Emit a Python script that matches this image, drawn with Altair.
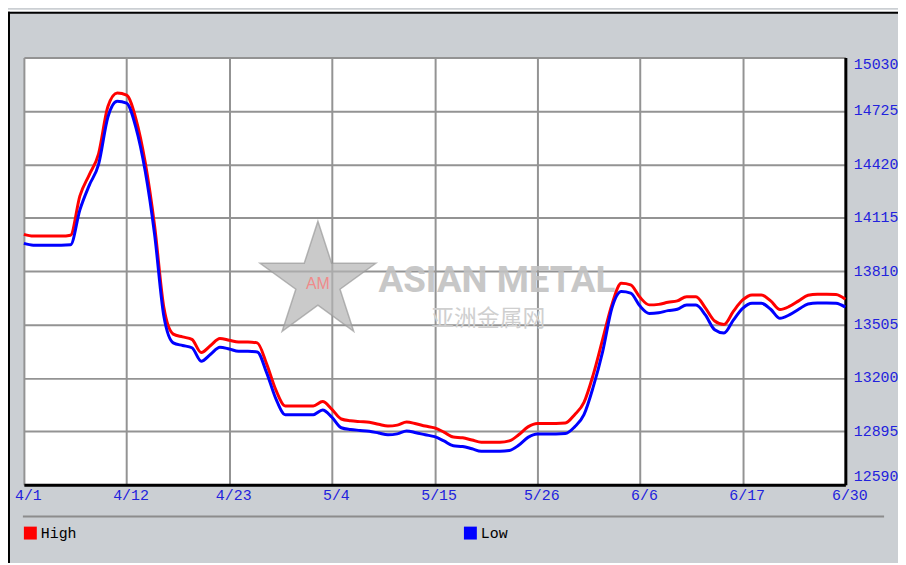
import altair as alt
import pandas as pd

# ---- data ----
days = list(range(89))
high = [14020, 14010, 14010, 14010, 14010, 14015, 14240, 14360, 14480, 14750,
        14827, 14815, 14680, 14430, 14070, 13600, 13450, 13434, 13420, 13345,
        13385, 13425, 13415, 13405, 13405, 13400, 13280, 13130, 13040, 13040,
        13040, 13040, 13065, 13020, 12965, 12955, 12950, 12946, 12935, 12925,
        12930, 12948, 12938, 12925, 12914, 12890, 12862, 12858, 12845, 12832,
        12832, 12832, 12840, 12875, 12920, 12940, 12940, 12940, 12942, 12990,
        13060, 13220, 13420, 13620, 13740, 13731, 13660, 13617, 13620, 13632,
        13640, 13664, 13664, 13600, 13525, 13505, 13580, 13645, 13674, 13674,
        13640, 13590, 13608, 13640, 13672, 13678, 13678, 13676, 13649]
low = [13968, 13958, 13958, 13958, 13958, 13960, 14160, 14300, 14420, 14690,
       14780, 14770, 14630, 14380, 14020, 13550, 13400, 13385, 13372, 13295,
       13335, 13375, 13365, 13352, 13352, 13348, 13230, 13080, 12990, 12990,
       12990, 12990, 13017, 12975, 12915, 12905, 12900, 12895, 12885, 12875,
       12880, 12897, 12887, 12875, 12864, 12840, 12812, 12808, 12795, 12781,
       12781, 12781, 12785, 12815, 12860, 12880, 12880, 12880, 12882, 12920,
       12990, 13150, 13350, 13600, 13693, 13684, 13610, 13568, 13572, 13584,
       13592, 13616, 13616, 13560, 13475, 13456, 13530, 13597, 13626, 13626,
       13592, 13540, 13560, 13592, 13622, 13628, 13628, 13626, 13604]
series_names = ["High", "Low"]
series_colors = ["#ff0000", "#0000ff"]
y_ticks = [12590, 12895, 13200, 13505, 13810, 14115, 14420, 14725, 15030]
x_tick_pos = [0, 11, 22, 33, 44, 55, 66, 77, 88]
x_tick_labels = ["4/1", "4/12", "4/23", "5/4", "5/15", "5/26", "6/6", "6/17", "6/30"]

df = pd.DataFrame({
    "day": days + days,
    "price": high + low,
    "series": [series_names[0]] * len(days) + [series_names[1]] * len(days),
})

W, H = 827, 430
label_color = "#2222dd"
grid_color = "#939393"
label_expr = "[" + ",".join("'%s'" % t for t in x_tick_labels) + "][round(datum.value / 11)]"

lines = alt.Chart(df).mark_line(strokeWidth=3, interpolate="monotone").encode(
    x=alt.X("day:Q",
            scale=alt.Scale(domain=[0, 88], nice=False, zero=False),
            axis=alt.Axis(values=x_tick_pos, labelExpr=label_expr, title=None,
                          orient="bottom", ticks=False, labelFlush=False,
                          labelFont="Liberation Mono", labelFontSize=15,
                          labelColor=label_color, labelPadding=3, labelOffset=4,
                          domainColor="black", domainWidth=3,
                          grid=True, gridColor=grid_color, gridWidth=2)),
    y=alt.Y("price:Q",
            scale=alt.Scale(domain=[12590, 15030], nice=False, zero=False),
            axis=alt.Axis(values=y_ticks, format="d", title=None, orient="right",
                          ticks=False, labelFlush=True, labelAlign="left",
                          labelFont="Liberation Mono", labelFontSize=15,
                          labelColor=label_color, labelPadding=8, labelOffset=-1,
                          domainColor="black", domainWidth=3,
                          grid=True, gridColor=grid_color, gridWidth=2)),
    color=alt.Color("series:N",
                    scale=alt.Scale(domain=series_names, range=series_colors),
                    legend=alt.Legend(title=None, orient="none", legendX=-1, legendY=471,
                                      direction="horizontal", symbolType="square",
                                      symbolSize=36, symbolStrokeWidth=7,
                                      labelFont="Liberation Mono", labelFontSize=15,
                                      labelColor="black", labelOffset=3,
                                      columnPadding=378, padding=0)),
)

one = pd.DataFrame({"t": ["ASIAN METAL"]})
one_cn = pd.DataFrame({"t": ["亚洲金属网"]})
one_am = pd.DataFrame({"t": ["AM"]})
dummy = pd.DataFrame({"k": [0]})

star_path = ("M0,-1L0.2245,-0.309L0.951,-0.309L0.363,0.118L0.588,0.809L0,0.382"
             "L-0.588,0.809L-0.363,0.118L-0.951,-0.309L-0.2245,-0.309Z")

star = alt.Chart(dummy).mark_point(shape=star_path, filled=True, size=15000,
                                   fill="#b4b4b4", fillOpacity=0.7,
                                   stroke="#9a9a9a", strokeWidth=1.5, strokeOpacity=0.7,
                                   opacity=1).encode(
    x=alt.value(296), y=alt.value(226))
am_text = alt.Chart(one_am).mark_text(font="Liberation Sans", fontSize=16, color="#f08a8a",
                                      align="center", baseline="middle").encode(
    text="t:N", x=alt.value(296), y=alt.value(228))
wm_en = alt.Chart(one).mark_text(font="Roboto", fontSize=37, fontWeight="bold",
                                 color="#c2c2c2", opacity=0.9, align="left",
                                 baseline="alphabetic").encode(
    text="t:N", x=alt.value(357), y=alt.value(236))
wm_cn = alt.Chart(one_cn).mark_text(font="Noto Sans CJK SC", fontSize=23,
                                    color="#cfcfcf", align="left",
                                    baseline="middle").encode(
    text="t:N", x=alt.value(410), y=alt.value(263))

sep = alt.Chart(dummy).mark_rule(color="#8c8c8c", strokeWidth=2).encode(
    x=alt.value(-1), x2=alt.value(866), y=alt.value(462))
top_white = alt.Chart(dummy).mark_rule(color="white", strokeWidth=2).encode(
    x=alt.value(-16), x2=alt.value(890), y=alt.value(-47))
top_border = alt.Chart(dummy).mark_rule(color="black", strokeWidth=2).encode(
    x=alt.value(-16), x2=alt.value(890), y=alt.value(-45))
left_border = alt.Chart(dummy).mark_rule(color="black", strokeWidth=2).encode(
    x=alt.value(-15), y=alt.value(-46), y2=alt.value(540))

chart = alt.layer(
    star, am_text, wm_en, wm_cn, lines, sep, top_white, top_border, left_border
).properties(
    width=W, height=H,
    autosize="none",
    padding={"left": 16, "top": 48, "right": 53, "bottom": 77},
    background="#cbcfd3",
).configure_view(
    fill="white", stroke="transparent"
)

chart.save("out.html", embed_options={"renderer": "svg", "actions": False})
